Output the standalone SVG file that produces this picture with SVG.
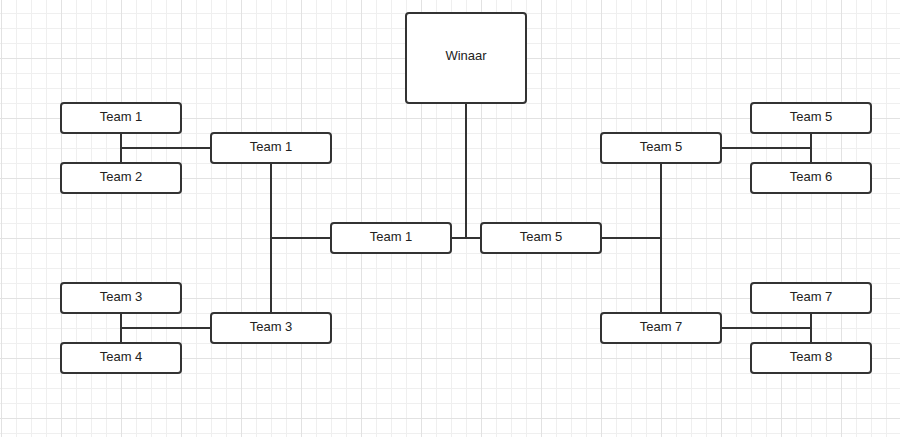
<svg xmlns="http://www.w3.org/2000/svg" width="900" height="437" viewBox="0 0 900 437">
<defs>
<pattern id="g" x="1" y="-2" width="15" height="15" patternUnits="userSpaceOnUse">
<path d="M0.5 0V15M0 0.5H15" stroke="#efefef" stroke-width="1" fill="none"/>
</pattern>
<pattern id="G" x="1" y="-2" width="60" height="60" patternUnits="userSpaceOnUse">
<path d="M0.5 0V60M0 0.5H60" stroke="#e2e2e2" stroke-width="1" fill="none"/>
</pattern>
</defs>
<style>
.n rect{fill:#fff;stroke:#333;stroke-width:2}
.n text{font-family:"Liberation Sans",Arial,sans-serif;font-size:13px;fill:#222;text-anchor:middle;dominant-baseline:central}
#edges path{stroke:#333;stroke-width:2;fill:none}
</style>
<rect width="900" height="437" fill="#fff"/>
<rect width="900" height="437" fill="url(#g)"/>
<rect width="900" height="437" fill="url(#G)"/>
<g id="edges">
<path d="M121 133V163M121 148H211"/>
<path d="M121 313V343M121 328H211"/>
<path d="M271 163V313M271 238H331"/>
<path d="M451 238H481M466 103V238"/>
<path d="M661 163V313M601 238H661"/>
<path d="M811 133V163M721 148H811"/>
<path d="M811 313V343M721 328H811"/>
</g>
<g id="winaar" class="n"><rect x="406" y="13" width="120" height="90" rx="3"/><text x="466" y="55.5">Winaar</text></g>
<g id="l1" class="n"><rect x="61" y="103" width="120" height="30" rx="3"/><text x="121" y="116">Team 1</text></g>
<g id="l2" class="n"><rect x="61" y="163" width="120" height="30" rx="3"/><text x="121" y="176">Team 2</text></g>
<g id="l3" class="n"><rect x="61" y="283" width="120" height="30" rx="3"/><text x="121" y="296">Team 3</text></g>
<g id="l4" class="n"><rect x="61" y="343" width="120" height="30" rx="3"/><text x="121" y="356">Team 4</text></g>
<g id="m1" class="n"><rect x="211" y="133" width="120" height="30" rx="3"/><text x="271" y="146">Team 1</text></g>
<g id="m3" class="n"><rect x="211" y="313" width="120" height="30" rx="3"/><text x="271" y="326">Team 3</text></g>
<g id="c1" class="n"><rect x="331" y="223" width="120" height="30" rx="3"/><text x="391" y="236">Team 1</text></g>
<g id="c5" class="n"><rect x="481" y="223" width="120" height="30" rx="3"/><text x="541" y="236">Team 5</text></g>
<g id="m5" class="n"><rect x="601" y="133" width="120" height="30" rx="3"/><text x="661" y="146">Team 5</text></g>
<g id="m7" class="n"><rect x="601" y="313" width="120" height="30" rx="3"/><text x="661" y="326">Team 7</text></g>
<g id="r5" class="n"><rect x="751" y="103" width="120" height="30" rx="3"/><text x="811" y="116">Team 5</text></g>
<g id="r6" class="n"><rect x="751" y="163" width="120" height="30" rx="3"/><text x="811" y="176">Team 6</text></g>
<g id="r7" class="n"><rect x="751" y="283" width="120" height="30" rx="3"/><text x="811" y="296">Team 7</text></g>
<g id="r8" class="n"><rect x="751" y="343" width="120" height="30" rx="3"/><text x="811" y="356">Team 8</text></g>
</svg>
